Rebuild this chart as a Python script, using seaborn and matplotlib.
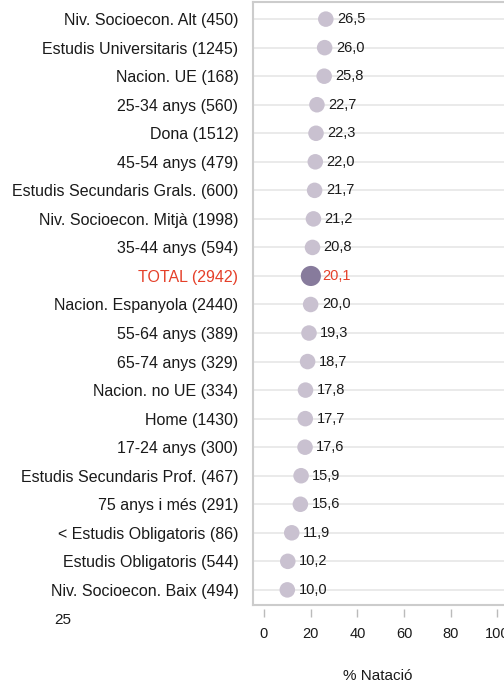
import pandas as pd
import matplotlib
matplotlib.use("Agg")
import matplotlib.pyplot as plt
import seaborn as sns

# dades
categories = ['Niv. Socioecon. Alt (450)', 'Estudis Universitaris (1245)', 'Nacion. UE (168)',
              '25-34 anys (560)', 'Dona (1512)', '45-54 anys (479)',
              'Estudis Secundaris Grals. (600)', 'Niv. Socioecon. Mitjà (1998)', '35-44 anys (594)',
              'TOTAL (2942)', 'Nacion. Espanyola (2440)', '55-64 anys (389)', '65-74 anys (329)',
              'Nacion. no UE (334)', 'Home (1430)', '17-24 anys (300)',
              'Estudis Secundaris Prof. (467)', '75 anys i més (291)', '< Estudis Obligatoris (86)',
              'Estudis Obligatoris (544)', 'Niv. Socioecon. Baix (494)']
values = [26.5, 26.0, 25.8, 22.7, 22.3, 22.0, 21.7, 21.2, 20.8, 20.1, 20.0, 19.3, 18.7,
          17.8, 17.7, 17.6, 15.9, 15.6, 11.9, 10.2, 10.0]
x_ticks = [0, 20, 40, 60, 80, 100]

df = pd.DataFrame({'cat': categories, 'val': values})
df['pos'] = range(len(df))
df['total'] = df['cat'].str.startswith('TOTAL')

sns.set_style('white')
plt.rcParams['font.family'] = ['Liberation Sans', 'DejaVu Sans']

fig = plt.figure(figsize=(5.04, 6.82), dpi=100)
ax = fig.add_axes([253 / 504, 1 - 605 / 682, 270 / 504, 603 / 682])

n = len(df)
ax.set_ylim(n - 1 + 0.53, -0.6)
ax.set_xlim(-4.7, 111)

for p in df['pos']:
    ax.axhline(p, color='#e6e6e6', lw=1.2, zorder=0)

sns.scatterplot(data=df[~df['total']], x='val', y='pos', s=125, color='#c9c1d0',
                edgecolor='none', ax=ax, zorder=3)
sns.scatterplot(data=df[df['total']], x='val', y='pos', s=210, color='#877b9c',
                edgecolor='none', ax=ax, zorder=3)

for _, r in df.iterrows():
    col = '#e5402a' if r['total'] else '#1a1a1a'
    ax.text(r['val'] + 4.8, r['pos'], f"{r['val']:.1f}".replace('.', ','),
            va='center', ha='left', fontsize=10.5, color=col, zorder=4)

ax.set_yticks(df['pos'])
ax.set_yticklabels(df['cat'], fontsize=11.5)
for lbl, tot in zip(ax.get_yticklabels(), df['total']):
    lbl.set_color('#e5402a' if tot else '#1a1a1a')
ax.tick_params(axis='y', length=0, pad=10.5)

for s in ax.spines.values():
    s.set_color('#cccccc')
    s.set_linewidth(1.5)

# eix x separat sota el marc
ax.set_xticks([])
ax.set_xlabel('')
ax.set_ylabel('')
sec = ax.secondary_xaxis(-0.007)
sec.set_xticks(x_ticks)
sec.spines['bottom'].set_visible(False)
sec.tick_params(axis='x', length=6, width=1, color='#bbbbbb', labelsize=10.5, pad=7,
                labelcolor='#1a1a1a')

fig.text(378 / 504, 1 - 676 / 682, '% Natació', ha='center', va='center', fontsize=11, color='#1a1a1a')
fig.text(63 / 504, 1 - 620 / 682, '25', ha='center', va='center', fontsize=11, color='#1a1a1a')

fig.savefig('out.png', dpi=100)
